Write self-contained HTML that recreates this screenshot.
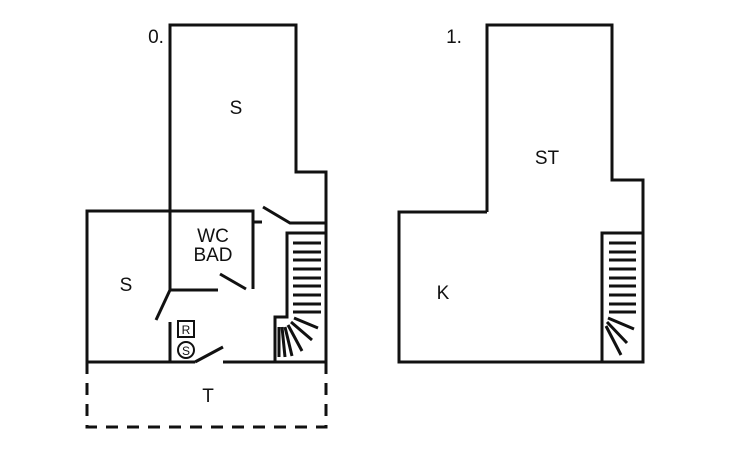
<!DOCTYPE html>
<html><head><style>body{margin:0;background:#fff}svg{display:block}text{font-family:"Liberation Sans",sans-serif;fill:#111}</style></head>
<body>
<svg width="730" height="450" viewBox="0 0 730 450" stroke="#111" stroke-width="3" fill="none">
<path d="M170 211 V25 H296 V172 H326 V362"/>
<path d="M87 362 V211 H253 V289"/>
<path d="M170 211 V290 H218"/>
<path d="M220 274 L246 289"/>
<path d="M253 222 H262"/>
<path d="M263 207 L290 223 H326"/>
<path d="M170 290 L156 320"/>
<path d="M170 322 V362"/>
<path d="M87 362 H195 M195 362 L223 347 M223 362 H326"/>
<path d="M326 233 H287 V317 H275 V362"/>
<path d="M87 362 V427 H326 V362" stroke-dasharray="12 9"/>
<path d="M293 243H321M293 252H321M293 260H321M293 269H321M293 278H321M293 286H321M293 295H321M293 304H321M293 312H321"/>
<path d="M294 318 L318 328 M291 322 L312 340 M288 325 L302 351 M285 327 L292 356 M282 327 L285 357 M279 327 V357"/>
<rect x="178" y="321" width="16" height="16" stroke-width="2"/>
<circle cx="186" cy="350" r="8" stroke-width="2"/>
<path d="M487 212 V25 H612 V180 H643 V362 H399 V212 H487"/>
<path d="M602 362 V233 H643"/>
<path d="M609 243H636M609 252H636M609 260H636M609 269H636M609 278H636M609 286H636M609 295H636M609 304H636M609 312H636"/>
<path d="M608 318 L634 329 M607 322 L627 343 M606 326 L621 355"/>
</svg>
<svg width="730" height="450" style="position:absolute;left:0;top:0">
<g font-size="19" text-anchor="middle">
<text x="156" y="43">0.</text>
<text x="454" y="43">1.</text>
<text x="236" y="114">S</text>
<text x="547" y="164">ST</text>
<text x="443" y="299">K</text>
<text x="213" y="242">WC</text>
<text x="213" y="261">BAD</text>
<text x="126" y="291">S</text>
<text x="208" y="402">T</text>
<text x="186" y="334" font-size="12">R</text>
<text x="186" y="355" font-size="12">S</text>
</g>
</svg>
</body></html>
